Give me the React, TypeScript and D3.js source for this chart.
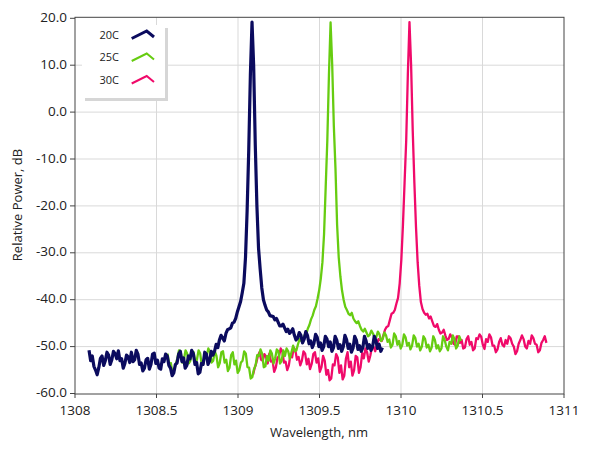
import * as d3 from "d3";

// spectra sampled every 0.01 nm, starting wavelengths below
const seriesNames = ["20C", "25C", "30C"];
const seriesColors = ["#0b0b5e", "#66cc11", "#f00a6a"];
const startWavelength = [1308.086, 1308.568, 1309.092];
const sampleStep = 0.01;

const power20C = [
  -50.8, -53.0, -52.0, -54.2, -55.0, -56.0, -54.5, -52.5, -52.0, -54.0,
  -53.0, -51.2, -51.8, -53.8, -52.8, -51.0, -51.5, -52.6, -50.9, -53.0,
  -52.6, -54.6, -53.6, -51.8, -52.2, -53.4, -51.2, -53.2, -52.8, -50.8,
  -51.6, -53.8, -53.5, -55.2, -54.6, -52.8, -52.5, -54.8, -53.8, -51.6,
  -51.4, -53.6, -52.9, -54.6, -54.8, -52.6, -53.2, -51.6, -52.0, -54.0,
  -54.6, -56.2, -55.6, -53.8, -53.5, -51.6, -51.0, -53.2, -52.4, -54.6,
  -54.0, -52.0, -52.6, -50.8, -51.5, -53.8, -53.4, -55.8, -55.5, -53.6,
  -53.8, -51.2, -51.6, -53.8, -53.0, -51.0, -51.8, -51.0, -49.5, -50.2,
  -48.6, -47.6, -48.2, -48.8, -47.2, -46.4, -46.2, -46.0, -45.0, -44.8,
  -44.0, -42.6, -41.5, -40.4, -38.5, -36.5, -31.0, -21.0, -8.0, 8.0,
  19.2, 10.0, -7.0, -20.0, -29.0, -33.5, -37.5, -40.0, -41.2, -42.2,
  -42.6, -43.4, -43.5, -43.6, -44.3, -44.0, -44.8, -45.6, -45.6, -45.2,
  -46.0, -46.8, -46.3, -47.2, -46.8, -46.2, -47.6, -48.6, -48.2, -47.0,
  -47.6, -49.2, -48.4, -46.8, -47.6, -49.4, -48.8, -50.2, -49.3, -47.4,
  -48.0, -50.0, -49.2, -50.8, -50.0, -47.8, -48.4, -50.0, -49.0, -51.0,
  -50.2, -47.8, -48.6, -50.4, -49.6, -51.0, -50.0, -47.6, -48.5, -50.4,
  -49.5, -51.2, -50.3, -47.8, -48.6, -50.6, -49.8, -51.0, -50.2, -47.8,
  -48.8, -50.4, -49.6, -50.8, -50.0, -47.8, -48.7, -50.4, -49.5, -51.0,
  -50.2,
];

const power25C = [
  -51.5, -53.8, -53.5, -55.6, -55.0, -53.8, -52.5, -50.8, -51.0, -53.4,
  -52.8, -50.8, -51.5, -53.6, -53.0, -51.0, -51.2, -53.6, -52.8, -50.8,
  -51.5, -54.0, -53.5, -51.6, -52.0, -50.4, -51.0, -53.4, -53.0, -51.0,
  -52.0, -54.4, -53.5, -51.2, -51.0, -53.4, -52.8, -55.2, -54.5, -51.8,
  -51.2, -53.8, -53.0, -55.6, -55.0, -53.4, -53.0, -51.0, -51.5, -54.4,
  -54.5, -56.8, -56.5, -54.8, -54.0, -51.8, -52.0, -50.6, -51.5, -54.4,
  -54.2, -52.0, -53.0, -50.8, -51.5, -53.6, -52.5, -50.6, -51.0, -53.6,
  -53.0, -50.8, -52.0, -50.4, -51.0, -52.6, -51.2, -49.8, -51.0, -50.8,
  -49.5, -48.4, -48.8, -48.8, -47.6, -47.4, -46.2, -45.4, -44.2, -43.4,
  -42.2, -41.4, -39.8, -38.0, -35.5, -32.0, -26.0, -16.0, -6.0, 8.0,
  19.1, 10.0, -3.0, -12.0, -24.0, -31.0, -35.0, -38.0, -40.0, -41.5,
  -42.2, -43.0, -43.3, -42.8, -44.0, -44.6, -45.0, -44.6, -45.6, -46.4,
  -46.8, -46.2, -47.0, -47.8, -47.5, -46.6, -47.2, -48.2, -48.0, -46.8,
  -47.4, -48.8, -48.4, -47.0, -47.6, -49.0, -48.5, -50.2, -49.6, -47.2,
  -47.8, -49.6, -48.8, -50.4, -49.6, -47.4, -48.0, -49.8, -49.2, -50.6,
  -49.8, -47.6, -48.2, -50.0, -49.4, -50.8, -50.0, -47.8, -48.4, -50.2,
  -49.6, -51.0, -50.2, -47.8, -48.6, -50.4, -49.7, -51.0, -50.4, -47.8,
  -48.6, -50.0, -50.8, -49.0, -49.4, -47.6, -48.4, -50.4, -49.8, -47.8,
  -48.8,
];

const power30C = [
  -56.0, -54.6, -53.5, -52.0, -51.2, -52.8, -53.0, -51.6, -52.2, -53.6,
  -51.5, -53.2, -53.0, -55.4, -54.5, -52.4, -52.0, -50.4, -51.0, -53.4,
  -53.2, -55.0, -54.0, -51.6, -52.3, -50.2, -50.8, -52.8, -52.2, -54.0,
  -53.0, -51.0, -51.5, -53.8, -52.6, -54.8, -53.7, -51.6, -51.2, -53.4,
  -52.5, -55.4, -54.4, -52.0, -53.0, -56.0, -55.0, -57.2, -56.8, -53.8,
  -54.0, -51.6, -52.3, -55.6, -54.0, -57.0, -56.2, -52.6, -51.2, -54.4,
  -53.2, -56.2, -55.1, -52.0, -52.3, -55.6, -54.4, -51.4, -52.5, -50.4,
  -51.2, -53.2, -51.9, -50.0, -50.1, -51.0, -49.6, -48.4, -48.6, -48.8,
  -47.6, -46.4, -45.8, -45.6, -44.3, -43.0, -42.8, -42.2, -40.8, -39.6,
  -36.5, -31.5, -24.0, -15.0, -6.0, 8.0, 19.2, 10.0, -4.0, -15.0,
  -24.5, -32.0, -37.0, -40.5, -42.0, -42.8, -43.2, -43.0, -44.0, -43.6,
  -44.6, -45.6, -45.8, -45.2, -46.4, -47.2, -47.0, -46.4, -47.6, -48.6,
  -48.4, -47.4, -48.0, -49.4, -49.6, -47.8, -47.8, -49.2, -48.6, -50.4,
  -50.2, -48.4, -47.8, -49.6, -49.0, -50.8, -50.4, -48.2, -48.4, -47.4,
  -47.9, -49.6, -50.5, -48.4, -49.0, -47.4, -48.0, -49.8, -49.8, -51.2,
  -50.6, -49.0, -48.2, -49.6, -50.0, -48.6, -49.4, -47.8, -48.2, -49.4,
  -50.0, -51.6, -51.0, -49.4, -48.6, -47.6, -48.4, -50.0, -50.4, -48.8,
  -49.4, -47.6, -48.2, -49.4, -49.6, -51.2, -50.8, -49.2, -48.6, -47.8,
  -49.2,
];

const xTicks = [1308, 1308.5, 1309, 1309.5, 1310, 1310.5, 1311];
const yTicks = [20, 10, 0, -10, -20, -30, -40, -50, -60];

const font = "'Open Sans', 'Noto Sans', sans-serif";

export default function App() {
  const x = d3.scaleLinear().domain([1308, 1311]).range([75, 564]);
  const y = d3.scaleLinear().domain([-60, 20]).range([393.5, 18.3]);

  const allPowers = [power20C, power25C, power30C];
  const series = allPowers.map((vals, s) =>
    vals.map((p, i) => ({ wl: startWavelength[s] + i * sampleStep, p }))
  );

  const line = d3
    .line<{ wl: number; p: number }>()
    .x((d) => x(d.wl))
    .y((d) => y(d.p));

  const widths = [3.2, 2.3, 2.3];
  // 30C first so 20C ends up on top
  const drawOrder = [2, 1, 0];

  const top = 17.3;
  const bottom = 394;

  return (
    <div style={{ position: "fixed", left: 0, top: 0 }}>
      <svg width={589} height={456} style={{ display: "block", background: "#fff" }}>
        <defs>
          <clipPath id="plot">
            <rect x={75} y={top} width={489} height={bottom - top} />
          </clipPath>
        </defs>

        {/* grid */}
        {xTicks.slice(1, -1).map((t) => (
          <line key={"gx" + t} x1={x(t)} x2={x(t)} y1={top} y2={bottom} stroke="#d9d9d9" strokeWidth={1} />
        ))}
        {yTicks.slice(1, -1).map((t) => (
          <line key={"gy" + t} x1={75} x2={564} y1={y(t)} y2={y(t)} stroke="#d9d9d9" strokeWidth={1} />
        ))}

        {/* legend */}
        <rect x={85} y={28} width={83} height={73} fill="#d6d6d6" />
        <rect x={82} y={25} width={83} height={73} fill="#fff" />
        {seriesNames.map((name, i) => {
          const cy = 36 + i * 22.5;
          return (
            <g key={name}>
              <text x={119} y={cy} textAnchor="end" dominantBaseline="middle" fontFamily={font} fontSize={11} fill="#222">
                {name}
              </text>
              <polyline
                points={`131.7,${cy + 2.5} 146.7,${cy - 5} 154,${cy + 1}`}
                fill="none"
                stroke={seriesColors[i]}
                strokeWidth={i === 0 ? 3 : 2}
              />
            </g>
          );
        })}

        {/* series */}
        <g clipPath="url(#plot)">
          {drawOrder.map((s) => (
            <path
              key={seriesNames[s]}
              d={line(series[s]) || ""}
              fill="none"
              stroke={seriesColors[s]}
              strokeWidth={widths[s]}
              strokeLinejoin="round"
            />
          ))}
        </g>

        {/* frame */}
        <rect x={75} y={top} width={489} height={bottom - top} fill="none" stroke="#444" strokeWidth={1} />

        {/* y axis */}
        {yTicks.map((t) => (
          <g key={"yt" + t}>
            <line x1={70} x2={75} y1={y(t)} y2={y(t)} stroke="#444" />
            <text x={67} y={y(t)} textAnchor="end" dominantBaseline="middle" fontFamily={font} fontSize={13.5} fill="#222">
              {t.toFixed(1)}
            </text>
          </g>
        ))}

        {/* x axis */}
        {xTicks.map((t) => (
          <g key={"xt" + t}>
            <line x1={x(t)} x2={x(t)} y1={bottom} y2={bottom + 4} stroke="#444" />
            <text x={x(t)} y={411} textAnchor="middle" dominantBaseline="middle" fontFamily={font} fontSize={13.5} fill="#222">
              {String(t)}
            </text>
          </g>
        ))}

        <text x={319} y={434} textAnchor="middle" dominantBaseline="middle" fontFamily={font} fontSize={13} fill="#222">
          Wavelength, nm
        </text>
        <text
          transform="translate(19,205) rotate(-90)"
          textAnchor="middle"
          dominantBaseline="middle"
          fontFamily={font}
          fontSize={13}
          fill="#222"
        >
          Relative Power, dB
        </text>
      </svg>
    </div>
  );
}
